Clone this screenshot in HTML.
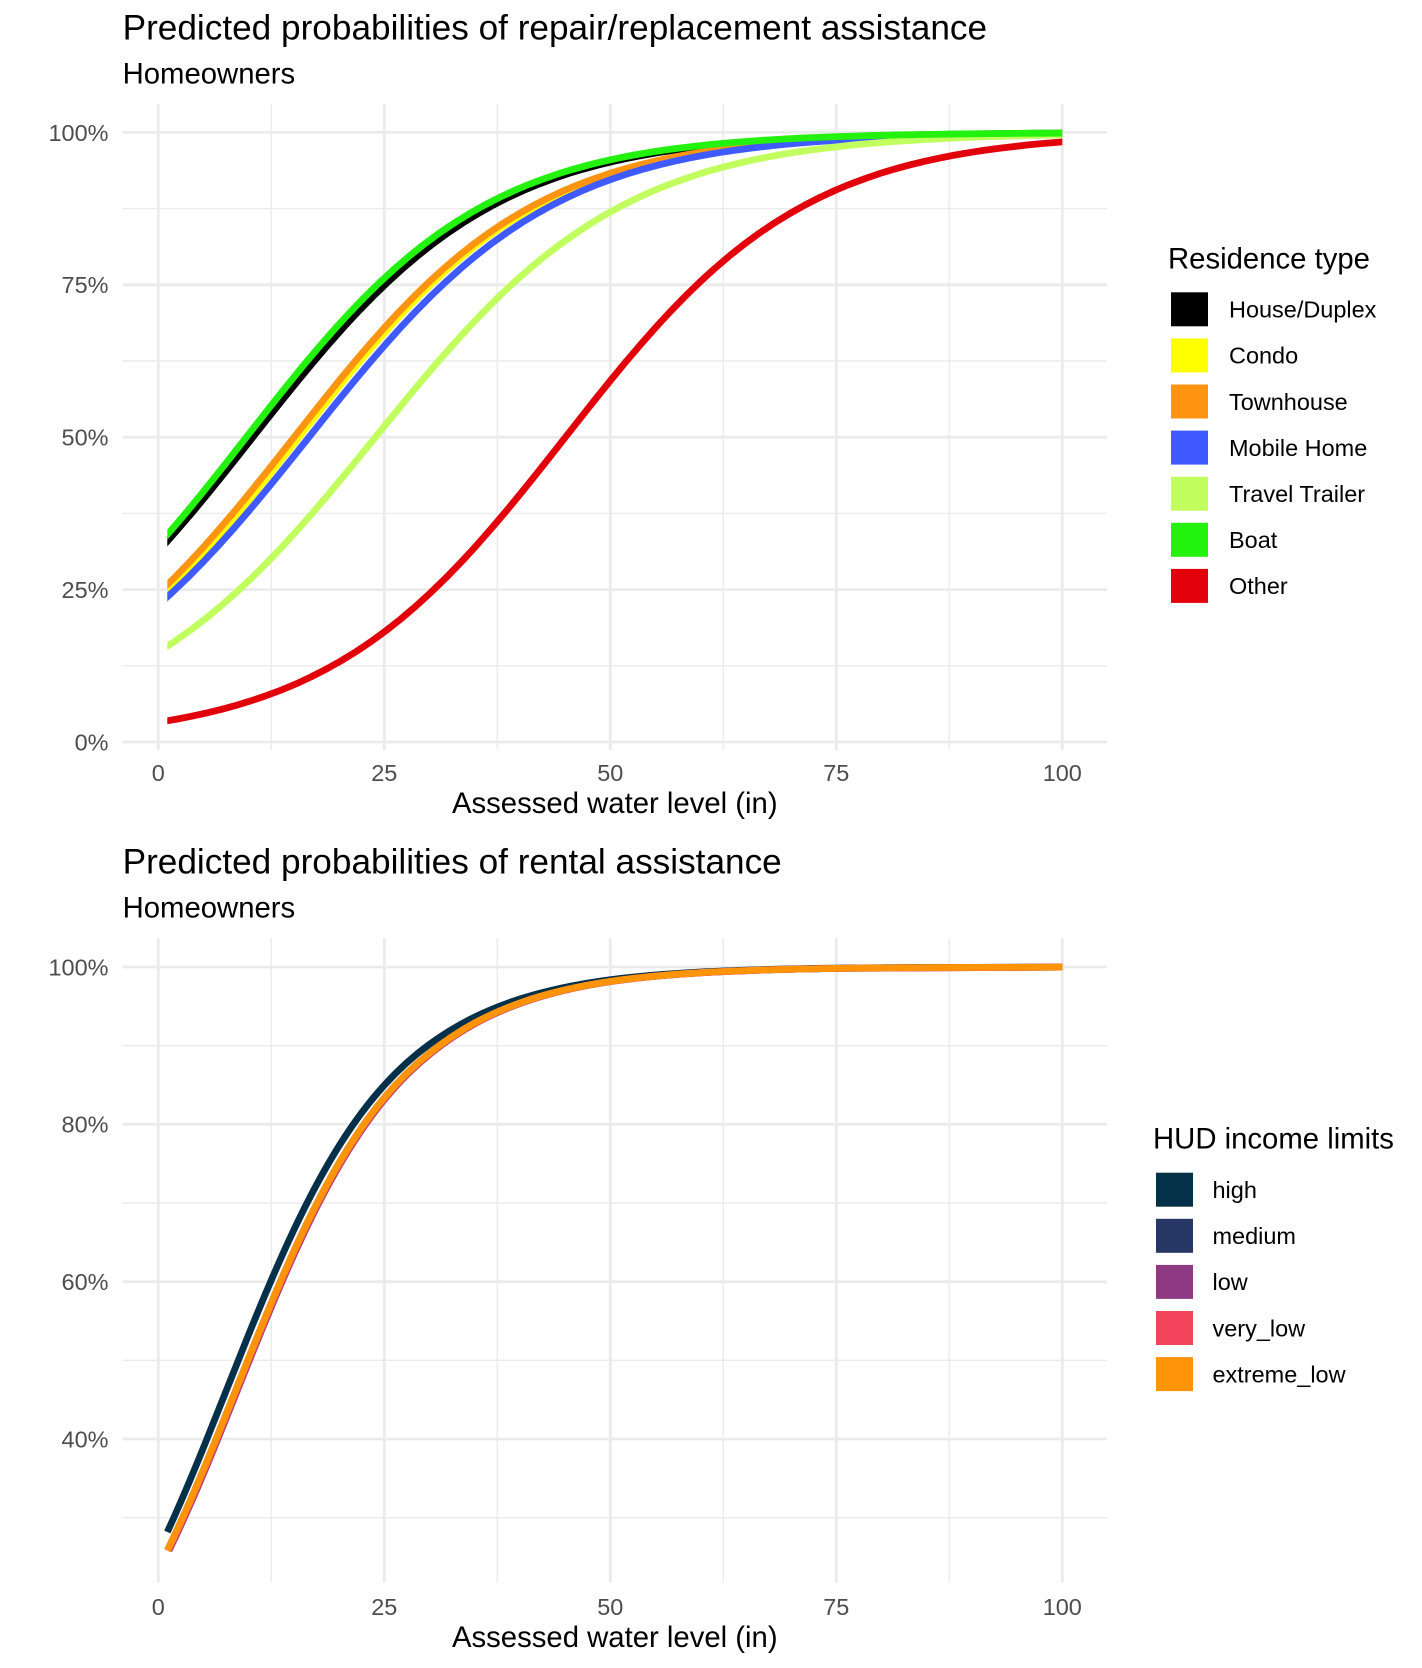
<!DOCTYPE html>
<html>
<head>
<meta charset="utf-8">
<style>
html,body{margin:0;padding:0;background:#ffffff;}
svg{display:block;}
text{font-family:"Liberation Sans",Arial,Helvetica,sans-serif;}
.tick{font-size:23.47px;fill:#4D4D4D;}
.leg{font-size:23.47px;fill:#000;}
.ttl{font-size:35.2px;fill:#000;}
.sub{font-size:29.3px;fill:#000;}
.gmaj{stroke:#EBEBEB;stroke-width:2.8;fill:none;}
.gmin{stroke:#EBEBEB;stroke-width:1.4;fill:none;}
.crv{fill:none;stroke-width:6.8;stroke-linejoin:round;stroke-linecap:butt;}
.sig{fill:none;stroke-width:6.8;stroke-linejoin:round;stroke-linecap:butt;vector-effect:non-scaling-stroke;}
</style>
</head>
<body>
<svg width="1422" height="1668" viewBox="0 0 1422 1668">
<rect x="0" y="0" width="1422" height="1668" fill="#ffffff"/>
<defs>
<clipPath id="c1"><rect x="167.3" y="60" width="895" height="720"/></clipPath>
</defs>

<!-- ============ TOP PANEL ============ -->
<text class="ttl" x="122.6" y="39.4">Predicted probabilities of repair/replacement assistance</text>
<text class="sub" x="122.6" y="83.7">Homeowners</text>

<g class="gmin">
<line x1="122.6" y1="665.8" x2="1107" y2="665.8"/>
<line x1="122.6" y1="513.4" x2="1107" y2="513.4"/>
<line x1="122.6" y1="361" x2="1107" y2="361"/>
<line x1="122.6" y1="208.6" x2="1107" y2="208.6"/>
<line x1="271.3" y1="104" x2="271.3" y2="750"/>
<line x1="497.3" y1="104" x2="497.3" y2="750"/>
<line x1="723.3" y1="104" x2="723.3" y2="750"/>
<line x1="949.3" y1="104" x2="949.3" y2="750"/>
</g>
<g class="gmaj">
<line x1="122.6" y1="742" x2="1107" y2="742"/>
<line x1="122.6" y1="589.6" x2="1107" y2="589.6"/>
<line x1="122.6" y1="437.2" x2="1107" y2="437.2"/>
<line x1="122.6" y1="284.8" x2="1107" y2="284.8"/>
<line x1="122.6" y1="132.4" x2="1107" y2="132.4"/>
<line x1="158.3" y1="104" x2="158.3" y2="750"/>
<line x1="384.3" y1="104" x2="384.3" y2="750"/>
<line x1="610.3" y1="104" x2="610.3" y2="750"/>
<line x1="836.3" y1="104" x2="836.3" y2="750"/>
<line x1="1062.3" y1="104" x2="1062.3" y2="750"/>
</g>

<g clip-path="url(#c1)">
<path class="sig" stroke="#000000" transform="matrix(1.2021 0 0 -0.6096 252.91 742)" d="M-400,18 L-387.5,20.3 -375,23.1 -362.5,26 -350,29.3 -337.5,33.1 -325,37.3 -312.5,42.1 -300,47.4 -287.5,53.4 -275,60.1 -262.5,67.6 -250,75.9 -237.5,85.1 -225,95.3 -212.5,106.7 -200,119.2 -187.5,133 -175,148 -162.5,164.5 -150,182.4 -137.5,201.8 -125,222.7 -112.5,245.1 -100,268.9 -87.5,294.2 -75,320.8 -62.5,348.7 -50,377.5 -37.5,407.3 -25,437.8 -12.5,468.8 0,500 12.5,531.2 25,562.2 37.5,592.7 50,622.5 62.5,651.3 75,679.2 87.5,705.8 100,731.1 112.5,754.9 125,777.3 137.5,798.2 150,817.6 162.5,835.5 175,852 187.5,867 200,880.8 212.5,893.3 225,904.7 237.5,914.9 250,924.1 262.5,932.5 275,939.9 287.5,946.6 300,952.6 312.5,957.9 325,962.7 337.5,966.9 350,970.7 362.5,974 375,976.9 387.5,979.7 400,982 412.5,984.1 425,985.9 437.5,987.6 450,989 462.5,990.3 475,991.4 487.5,992.4 500,993.3 525,994.8 550,995.9 575,996.8 600,997.5 650,998.5 700,999.1 800,999.7 1000,1000"/>
<path class="sig" stroke="#FFFF00" transform="matrix(1.19735 0 0 -0.6096 299.05 742)" d="M-400,18 L-387.5,20.3 -375,23.1 -362.5,26 -350,29.3 -337.5,33.1 -325,37.3 -312.5,42.1 -300,47.4 -287.5,53.4 -275,60.1 -262.5,67.6 -250,75.9 -237.5,85.1 -225,95.3 -212.5,106.7 -200,119.2 -187.5,133 -175,148 -162.5,164.5 -150,182.4 -137.5,201.8 -125,222.7 -112.5,245.1 -100,268.9 -87.5,294.2 -75,320.8 -62.5,348.7 -50,377.5 -37.5,407.3 -25,437.8 -12.5,468.8 0,500 12.5,531.2 25,562.2 37.5,592.7 50,622.5 62.5,651.3 75,679.2 87.5,705.8 100,731.1 112.5,754.9 125,777.3 137.5,798.2 150,817.6 162.5,835.5 175,852 187.5,867 200,880.8 212.5,893.3 225,904.7 237.5,914.9 250,924.1 262.5,932.5 275,939.9 287.5,946.6 300,952.6 312.5,957.9 325,962.7 337.5,966.9 350,970.7 362.5,974 375,976.9 387.5,979.7 400,982 412.5,984.1 425,985.9 437.5,987.6 450,989 462.5,990.3 475,991.4 487.5,992.4 500,993.3 525,994.8 550,995.9 575,996.8 600,997.5 650,998.5 700,999.1 800,999.7 1000,1000"/>
<path class="sig" stroke="#FF9410" transform="matrix(1.20053 0 0 -0.6096 294.08 742)" d="M-400,18 L-387.5,20.3 -375,23.1 -362.5,26 -350,29.3 -337.5,33.1 -325,37.3 -312.5,42.1 -300,47.4 -287.5,53.4 -275,60.1 -262.5,67.6 -250,75.9 -237.5,85.1 -225,95.3 -212.5,106.7 -200,119.2 -187.5,133 -175,148 -162.5,164.5 -150,182.4 -137.5,201.8 -125,222.7 -112.5,245.1 -100,268.9 -87.5,294.2 -75,320.8 -62.5,348.7 -50,377.5 -37.5,407.3 -25,437.8 -12.5,468.8 0,500 12.5,531.2 25,562.2 37.5,592.7 50,622.5 62.5,651.3 75,679.2 87.5,705.8 100,731.1 112.5,754.9 125,777.3 137.5,798.2 150,817.6 162.5,835.5 175,852 187.5,867 200,880.8 212.5,893.3 225,904.7 237.5,914.9 250,924.1 262.5,932.5 275,939.9 287.5,946.6 300,952.6 312.5,957.9 325,962.7 337.5,966.9 350,970.7 362.5,974 375,976.9 387.5,979.7 400,982 412.5,984.1 425,985.9 437.5,987.6 450,989 462.5,990.3 475,991.4 487.5,992.4 500,993.3 525,994.8 550,995.9 575,996.8 600,997.5 650,998.5 700,999.1 800,999.7 1000,1000"/>
<path class="sig" stroke="#3F5BFF" transform="matrix(1.21669 0 0 -0.6096 308.93 742)" d="M-400,18 L-387.5,20.3 -375,23.1 -362.5,26 -350,29.3 -337.5,33.1 -325,37.3 -312.5,42.1 -300,47.4 -287.5,53.4 -275,60.1 -262.5,67.6 -250,75.9 -237.5,85.1 -225,95.3 -212.5,106.7 -200,119.2 -187.5,133 -175,148 -162.5,164.5 -150,182.4 -137.5,201.8 -125,222.7 -112.5,245.1 -100,268.9 -87.5,294.2 -75,320.8 -62.5,348.7 -50,377.5 -37.5,407.3 -25,437.8 -12.5,468.8 0,500 12.5,531.2 25,562.2 37.5,592.7 50,622.5 62.5,651.3 75,679.2 87.5,705.8 100,731.1 112.5,754.9 125,777.3 137.5,798.2 150,817.6 162.5,835.5 175,852 187.5,867 200,880.8 212.5,893.3 225,904.7 237.5,914.9 250,924.1 262.5,932.5 275,939.9 287.5,946.6 300,952.6 312.5,957.9 325,962.7 337.5,966.9 350,970.7 362.5,974 375,976.9 387.5,979.7 400,982 412.5,984.1 425,985.9 437.5,987.6 450,989 462.5,990.3 475,991.4 487.5,992.4 500,993.3 525,994.8 550,995.9 575,996.8 600,997.5 650,998.5 700,999.1 800,999.7 1000,1000"/>
<path class="sig" stroke="#C1FF5F" transform="matrix(1.23836 0 0 -0.6096 375.38 742)" d="M-400,18 L-387.5,20.3 -375,23.1 -362.5,26 -350,29.3 -337.5,33.1 -325,37.3 -312.5,42.1 -300,47.4 -287.5,53.4 -275,60.1 -262.5,67.6 -250,75.9 -237.5,85.1 -225,95.3 -212.5,106.7 -200,119.2 -187.5,133 -175,148 -162.5,164.5 -150,182.4 -137.5,201.8 -125,222.7 -112.5,245.1 -100,268.9 -87.5,294.2 -75,320.8 -62.5,348.7 -50,377.5 -37.5,407.3 -25,437.8 -12.5,468.8 0,500 12.5,531.2 25,562.2 37.5,592.7 50,622.5 62.5,651.3 75,679.2 87.5,705.8 100,731.1 112.5,754.9 125,777.3 137.5,798.2 150,817.6 162.5,835.5 175,852 187.5,867 200,880.8 212.5,893.3 225,904.7 237.5,914.9 250,924.1 262.5,932.5 275,939.9 287.5,946.6 300,952.6 312.5,957.9 325,962.7 337.5,966.9 350,970.7 362.5,974 375,976.9 387.5,979.7 400,982 412.5,984.1 425,985.9 437.5,987.6 450,989 462.5,990.3 475,991.4 487.5,992.4 500,993.3 525,994.8 550,995.9 575,996.8 600,997.5 650,998.5 700,999.1 800,999.7 1000,1000"/>
<path class="sig" stroke="#22F20D" transform="matrix(1.19104 0 0 -0.6096 246.32 742)" d="M-400,18 L-387.5,20.3 -375,23.1 -362.5,26 -350,29.3 -337.5,33.1 -325,37.3 -312.5,42.1 -300,47.4 -287.5,53.4 -275,60.1 -262.5,67.6 -250,75.9 -237.5,85.1 -225,95.3 -212.5,106.7 -200,119.2 -187.5,133 -175,148 -162.5,164.5 -150,182.4 -137.5,201.8 -125,222.7 -112.5,245.1 -100,268.9 -87.5,294.2 -75,320.8 -62.5,348.7 -50,377.5 -37.5,407.3 -25,437.8 -12.5,468.8 0,500 12.5,531.2 25,562.2 37.5,592.7 50,622.5 62.5,651.3 75,679.2 87.5,705.8 100,731.1 112.5,754.9 125,777.3 137.5,798.2 150,817.6 162.5,835.5 175,852 187.5,867 200,880.8 212.5,893.3 225,904.7 237.5,914.9 250,924.1 262.5,932.5 275,939.9 287.5,946.6 300,952.6 312.5,957.9 325,962.7 337.5,966.9 350,970.7 362.5,974 375,976.9 387.5,979.7 400,982 412.5,984.1 425,985.9 437.5,987.6 450,989 462.5,990.3 475,991.4 487.5,992.4 500,993.3 525,994.8 550,995.9 575,996.8 600,997.5 650,998.5 700,999.1 800,999.7 1000,1000"/>
<path class="sig" stroke="#E2000B" transform="matrix(1.19735 0 0 -0.6096 565.4 742)" d="M-400,18 L-387.5,20.3 -375,23.1 -362.5,26 -350,29.3 -337.5,33.1 -325,37.3 -312.5,42.1 -300,47.4 -287.5,53.4 -275,60.1 -262.5,67.6 -250,75.9 -237.5,85.1 -225,95.3 -212.5,106.7 -200,119.2 -187.5,133 -175,148 -162.5,164.5 -150,182.4 -137.5,201.8 -125,222.7 -112.5,245.1 -100,268.9 -87.5,294.2 -75,320.8 -62.5,348.7 -50,377.5 -37.5,407.3 -25,437.8 -12.5,468.8 0,500 12.5,531.2 25,562.2 37.5,592.7 50,622.5 62.5,651.3 75,679.2 87.5,705.8 100,731.1 112.5,754.9 125,777.3 137.5,798.2 150,817.6 162.5,835.5 175,852 187.5,867 200,880.8 212.5,893.3 225,904.7 237.5,914.9 250,924.1 262.5,932.5 275,939.9 287.5,946.6 300,952.6 312.5,957.9 325,962.7 337.5,966.9 350,970.7 362.5,974 375,976.9 387.5,979.7 400,982 412.5,984.1 425,985.9 437.5,987.6 450,989 462.5,990.3 475,991.4 487.5,992.4 500,993.3 525,994.8 550,995.9 575,996.8 600,997.5 650,998.5 700,999.1 800,999.7 1000,1000"/>
</g>

<g class="tick" text-anchor="end">
<text x="108.5" y="750.4">0%</text>
<text x="108.5" y="598">25%</text>
<text x="108.5" y="445.6">50%</text>
<text x="108.5" y="293.2">75%</text>
<text x="108.5" y="140.8">100%</text>
</g>
<g class="tick" text-anchor="middle">
<text x="158.3" y="781">0</text>
<text x="384.3" y="781">25</text>
<text x="610.3" y="781">50</text>
<text x="836.3" y="781">75</text>
<text x="1062.3" y="781">100</text>
</g>
<text class="sub" x="614.8" y="813" text-anchor="middle">Assessed water level (in)</text>

<text class="sub" x="1168" y="268.5">Residence type</text>
<rect x="1171" y="292.3" width="37" height="34" fill="#000000"/>
<rect x="1171" y="338.4" width="37" height="34" fill="#FFFF00"/>
<rect x="1171" y="384.5" width="37" height="34" fill="#FF9410"/>
<rect x="1171" y="430.6" width="37" height="34" fill="#3F5BFF"/>
<rect x="1171" y="476.7" width="37" height="34" fill="#C1FF5F"/>
<rect x="1171" y="522.8" width="37" height="34" fill="#22F20D"/>
<rect x="1171" y="568.9" width="37" height="34" fill="#E2000B"/>
<g class="leg">
<text x="1229" y="317.6">House/Duplex</text>
<text x="1229" y="363.7">Condo</text>
<text x="1229" y="409.8">Townhouse</text>
<text x="1229" y="455.9">Mobile Home</text>
<text x="1229" y="502">Travel Trailer</text>
<text x="1229" y="548.1">Boat</text>
<text x="1229" y="594.2">Other</text>
</g>

<!-- ============ BOTTOM PANEL ============ -->
<text class="ttl" x="122.6" y="873.3">Predicted probabilities of rental assistance</text>
<text class="sub" x="122.6" y="917.7">Homeowners</text>

<g class="gmin">
<line x1="122.6" y1="1517.7" x2="1107" y2="1517.7"/>
<line x1="122.6" y1="1360.35" x2="1107" y2="1360.35"/>
<line x1="122.6" y1="1203" x2="1107" y2="1203"/>
<line x1="122.6" y1="1045.7" x2="1107" y2="1045.7"/>
<line x1="271.3" y1="938.3" x2="271.3" y2="1582.4"/>
<line x1="497.3" y1="938.3" x2="497.3" y2="1582.4"/>
<line x1="723.3" y1="938.3" x2="723.3" y2="1582.4"/>
<line x1="949.3" y1="938.3" x2="949.3" y2="1582.4"/>
</g>
<g class="gmaj">
<line x1="122.6" y1="1439" x2="1107" y2="1439"/>
<line x1="122.6" y1="1281.7" x2="1107" y2="1281.7"/>
<line x1="122.6" y1="1124.3" x2="1107" y2="1124.3"/>
<line x1="122.6" y1="967" x2="1107" y2="967"/>
<line x1="158.3" y1="938.3" x2="158.3" y2="1582.4"/>
<line x1="384.3" y1="938.3" x2="384.3" y2="1582.4"/>
<line x1="610.3" y1="938.3" x2="610.3" y2="1582.4"/>
<line x1="836.3" y1="938.3" x2="836.3" y2="1582.4"/>
<line x1="1062.3" y1="938.3" x2="1062.3" y2="1582.4"/>
</g>

<path class="crv" stroke="#04304A" d="M167.3,1532 C179.37,1505.86 191.43,1477.23 203.5,1447.5 C218.57,1410.38 233.63,1371.63 248.7,1334.4 C263.77,1297.17 278.83,1261.65 293.9,1229.8 C308.97,1197.95 324.03,1169.79 339.1,1145.8 C354.17,1121.81 369.23,1101.82 384.3,1085.2 C399.37,1068.58 414.43,1055.27 429.5,1044.3 C444.57,1033.33 459.63,1024.38 474.7,1017 C489.77,1009.62 504.83,1003.83 519.9,999 C550.03,989.34 580.17,983.64 610.3,979.7 C640.43,975.76 670.57,973.57 700.7,972 C745.9,969.64 791.1,968.77 836.3,968.2 C911.63,967.24 987,967.19 1062.3,967.1"/>
<path class="crv" stroke="#263766" d="M167.3,1550.5 C179.37,1525.75 191.43,1498.55 203.5,1469.7 C218.57,1433.68 233.63,1395.4 248.7,1358 C263.77,1320.6 278.83,1284.13 293.9,1251.1 C308.97,1218.07 324.03,1188.55 339.1,1163 C354.17,1137.45 369.23,1115.75 384.3,1097.7 C399.37,1079.65 414.43,1065.15 429.5,1053.1 C444.57,1041.05 459.63,1031.07 474.7,1022.9 C489.77,1014.73 504.83,1008.28 519.9,1002.9 C550.03,992.14 580.17,985.85 610.3,981.4 C640.43,976.95 670.57,974.47 700.7,972.7 C745.9,970.05 791.1,969.05 836.3,968.4 C911.63,967.32 987,967.2 1062.3,967.1"/>
<path class="crv" stroke="#8D3A82" transform="translate(1.7,0)" d="M167.3,1550.5 C179.37,1525.75 191.43,1498.55 203.5,1469.7 C218.57,1433.68 233.63,1395.4 248.7,1358 C263.77,1320.6 278.83,1284.13 293.9,1251.1 C308.97,1218.07 324.03,1188.55 339.1,1163 C354.17,1137.45 369.23,1115.75 384.3,1097.7 C399.37,1079.65 414.43,1065.15 429.5,1053.1 C444.57,1041.05 459.63,1031.07 474.7,1022.9 C489.77,1014.73 504.83,1008.28 519.9,1002.9 C550.03,992.14 580.17,985.85 610.3,981.4 C640.43,976.95 670.57,974.47 700.7,972.7 C745.9,970.05 791.1,969.05 836.3,968.4 C911.63,967.32 987,967.2 1060.6,967.1"/>
<path class="crv" stroke="#F2455C" transform="translate(0.9,0)" d="M167.3,1550.5 C179.37,1525.75 191.43,1498.55 203.5,1469.7 C218.57,1433.68 233.63,1395.4 248.7,1358 C263.77,1320.6 278.83,1284.13 293.9,1251.1 C308.97,1218.07 324.03,1188.55 339.1,1163 C354.17,1137.45 369.23,1115.75 384.3,1097.7 C399.37,1079.65 414.43,1065.15 429.5,1053.1 C444.57,1041.05 459.63,1031.07 474.7,1022.9 C489.77,1014.73 504.83,1008.28 519.9,1002.9 C550.03,992.14 580.17,985.85 610.3,981.4 C640.43,976.95 670.57,974.47 700.7,972.7 C745.9,970.05 791.1,969.05 836.3,968.4 C911.63,967.32 987,967.2 1061.4,967.1"/>
<path class="crv" stroke="#FF9408" d="M167.3,1550.5 C179.37,1525.75 191.43,1498.55 203.5,1469.7 C218.57,1433.68 233.63,1395.4 248.7,1358 C263.77,1320.6 278.83,1284.13 293.9,1251.1 C308.97,1218.07 324.03,1188.55 339.1,1163 C354.17,1137.45 369.23,1115.75 384.3,1097.7 C399.37,1079.65 414.43,1065.15 429.5,1053.1 C444.57,1041.05 459.63,1031.07 474.7,1022.9 C489.77,1014.73 504.83,1008.28 519.9,1002.9 C550.03,992.14 580.17,985.85 610.3,981.4 C640.43,976.95 670.57,974.47 700.7,972.7 C745.9,970.05 791.1,969.05 836.3,968.4 C911.63,967.32 987,967.2 1062.3,967.1"/>

<g class="tick" text-anchor="end">
<text x="108.5" y="1447.4">40%</text>
<text x="108.5" y="1290.1">60%</text>
<text x="108.5" y="1132.7">80%</text>
<text x="108.5" y="975.4">100%</text>
</g>
<g class="tick" text-anchor="middle">
<text x="158.3" y="1615">0</text>
<text x="384.3" y="1615">25</text>
<text x="610.3" y="1615">50</text>
<text x="836.3" y="1615">75</text>
<text x="1062.3" y="1615">100</text>
</g>
<text class="sub" x="614.8" y="1647" text-anchor="middle">Assessed water level (in)</text>

<text class="sub" x="1153" y="1148.5">HUD income limits</text>
<rect x="1156" y="1172.7" width="37" height="34" fill="#04304A"/>
<rect x="1156" y="1218.8" width="37" height="34" fill="#263766"/>
<rect x="1156" y="1264.9" width="37" height="34" fill="#8D3A82"/>
<rect x="1156" y="1311" width="37" height="34" fill="#F2455C"/>
<rect x="1156" y="1357.1" width="37" height="34" fill="#FF9408"/>
<g class="leg">
<text x="1212.5" y="1198">high</text>
<text x="1212.5" y="1244.1">medium</text>
<text x="1212.5" y="1290.2">low</text>
<text x="1212.5" y="1336.3">very_low</text>
<text x="1212.5" y="1382.4">extreme_low</text>
</g>
</svg>
</body>
</html>
